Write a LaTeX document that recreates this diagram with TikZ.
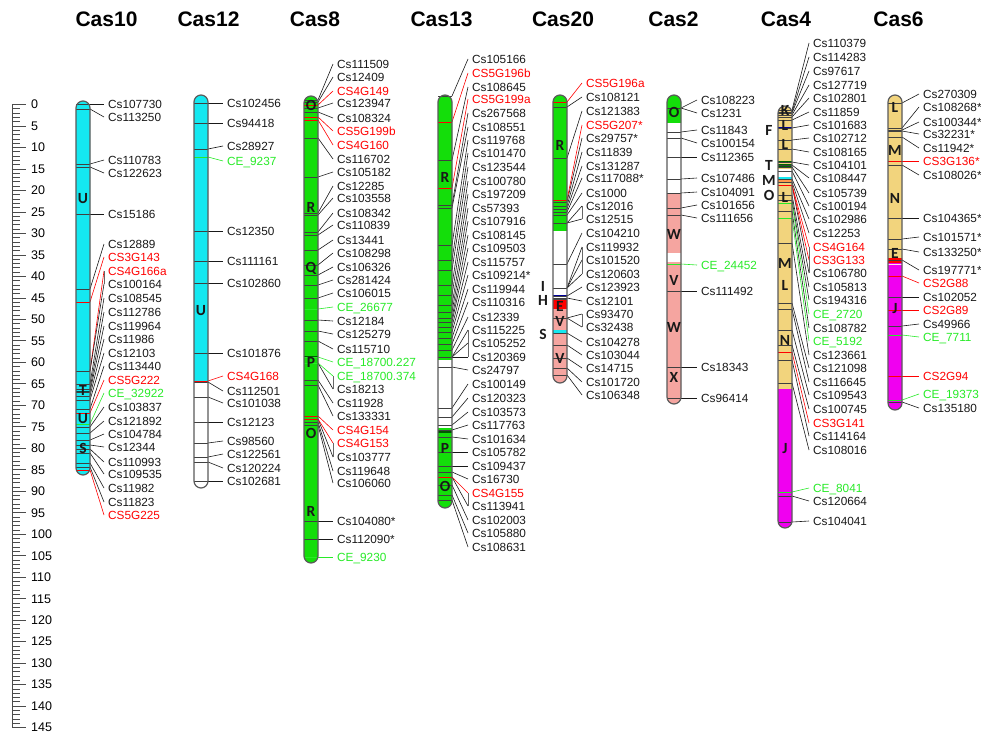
\documentclass[tikz,border=0pt]{standalone}
\usepackage{fontspec}
\setmainfont{Liberation Sans}
\newfontfamily\carl{Carlito}
\definecolor{cyanf}{RGB}{20,232,240}
\definecolor{greenf}{RGB}{20,222,10}
\definecolor{pinkf}{RGB}{245,165,160}
\definecolor{yellf}{RGB}{242,212,125}
\definecolor{magf}{RGB}{240,0,240}
\definecolor{barc}{RGB}{90,90,90}
\definecolor{txk}{RGB}{25,25,25}
\definecolor{txr}{RGB}{255,0,0}
\definecolor{txg}{RGB}{40,235,40}
\colorlet{cnk}{txk}\colorlet{cnr}{txr}\colorlet{cng}{txg}
\colorlet{tkk}{black!75}\colorlet{tkr}{red}\colorlet{tkg}{txg}
\tikzset{
  lab/.style={font=\fontsize{11.8}{12}\selectfont, anchor=west, inner xsep=4pt, inner ysep=0pt, text height=8.5pt, text depth=0pt},
  ttl/.style={font=\fontsize{21}{24}\selectfont\bfseries, anchor=base, inner sep=0pt, text=black},
  letr/.style={font=\carl\fontsize{15.5}{16}\selectfont\bfseries, inner sep=0pt, text height=10pt, text depth=0pt, text=black!90},
  chbar/.style={draw=barc, line width=1.2pt, rounded corners=7pt},
  tkl/.style={line width=0.8pt},
  cn/.style={line width=0.6pt},
  brk/.style={line width=0.8pt, draw=black!60},
  sctick/.style={line width=0.7pt, draw=black!70},
  sclab/.style={font=\fontsize{12.5}{13}\selectfont, anchor=west, inner xsep=4pt, inner ysep=0pt, text height=8.8pt, text depth=0pt}
}
\newcounter{mkc}
\newcommand\mymk[4]{%
  \stepcounter{mkc}%
  \edef\mkn{\arabic{mkc}}%
  \draw[tkl,draw=tk#4] (\cxl,#1) -- (\cxr,#1);
  \coordinate (t\mkn) at (\cxr,#1);
  \node[lab,text=tx#4] (n\mkn) at (\clx,#2) {#3};
  \draw[cn,draw=cn#4] (t\mkn) -- (n\mkn.west);
}
\newcommand\mybrk[2]{\draw[brk] (\clx,#1) -- (\clx,#2);}
\newcommand\myband[3][0.8pt]{\draw[line width=#1,draw=#3] (\cxl,#2) -- (\cxr,#2);}
\newcommand\myseg[3]{\fill[#3] (\cxl-2,#1) rectangle (\cxr+2,#2);}
\newcommand\setchr[5]{\def\cxl{#1}\def\cxr{#2}\def\clx{#3}\def\ctop{#4}\def\cbot{#5}}
\newcommand\myclipbar{\clip[rounded corners=7pt] (\cxl,\ctop) rectangle (\cxr,\cbot);}
\newcommand\mybarline{\draw[chbar] (\cxl,\ctop) rectangle (\cxr,\cbot);}
\newcommand\mylt[2]{\node[letr] at ({(\cxl+\cxr)/2},#1) {#2};}
\begin{document}
\begin{tikzpicture}[x=1pt,y=-1pt]
\useasboundingbox (0,0) rectangle (981,734);
\fill[white] (0,0) rectangle (981,734);
% titles
\node[ttl] (t10) at (106.5,26) {Cas10};
\node[ttl] (t12) at (208.5,26) {Cas12};
\node[ttl] (t8) at (315,26) {Cas8};
\node[ttl] (t13) at (441.5,26) {Cas13};
\node[ttl] (t20) at (563,26) {Cas20};
\node[ttl] (t2) at (673.5,26) {Cas2};
\node[ttl] (t4) at (786,26) {Cas4};
\node[ttl] (t6) at (898.5,26) {Cas6};
% scale
\draw[line width=1pt, draw=black!70] (12,104.5) -- (12,727.5);
\foreach \i in {0,...,145}{\pgfmathsetmacro\yy{104.5+4.2966*\i}\draw[sctick] (12,\yy) -- (20,\yy);}
\foreach \i in {0,5,...,145}{\pgfmathsetmacro\yy{104.5+4.2966*\i}\draw[sctick] (12,\yy) -- (26,\yy); \node[sclab] (s\i) at (27,\yy) {\i};}

% ---------------- Cas10
\setchr{76}{90}{104}{101}{475}
\begin{scope}\myclipbar
\myseg{90}{480}{cyanf}
\myband[2pt]{392}{teal!60!black}
\myband{396}{teal!70!black}
\end{scope}
\mymk{104}{104}{Cs107730}{k}
\mymk{109}{117}{Cs113250}{k}
\mymk{164}{160}{Cs110783}{k}
\mymk{167}{173}{Cs122623}{k}
\mymk{214}{214}{Cs15186}{k}
\mymk{289}{244}{Cs12889}{k}
\mymk{302}{257}{CS3G143}{r}
\mymk{371}{271}{CS4G166a}{r}
\mymk{371}{284}{Cs100164}{k}
\mymk{384}{298}{Cs108545}{k}
\mymk{389}{312}{Cs112786}{k}
\mymk{392}{326}{Cs119964}{k}
\mymk{396}{339}{Cs11986}{k}
\mymk{400}{353}{Cs12103}{k}
\mymk{409}{366}{Cs113440}{k}
\mymk{413}{380}{CS5G222}{r}
\mymk{424}{393}{CE\_32922}{g}
\mymk{427}{407}{Cs103837}{k}
\mymk{433}{421}{Cs121892}{k}
\mymk{440}{434}{Cs104784}{k}
\mymk{445}{447}{Cs12344}{k}
\mymk{449}{462}{Cs110993}{k}
\mymk{453}{474}{Cs109535}{k}
\mymk{463}{488}{Cs11982}{k}
\mymk{467}{502}{Cs11823}{k}
\mymk{470}{515}{CS5G225}{r}
\mybrk{271}{284}
\mybarline
\mylt{198}{U}\mylt{390}{T}\mylt{418}{U}\mylt{448}{S}

% ---------------- Cas12
\setchr{194}{208}{223}{95}{488}
\begin{scope}\myclipbar
\myseg{90}{381}{cyanf}
\myseg{381}{495}{white}
\end{scope}
\mymk{103}{103}{Cs102456}{k}
\mymk{123}{123}{Cs94418}{k}
\mymk{149}{146}{Cs28927}{k}
\mymk{157}{161}{CE\_9237}{g}
\mymk{231}{231}{Cs12350}{k}
\mymk{261}{261}{Cs111161}{k}
\mymk{283}{283}{Cs102860}{k}
\mymk{353}{353}{Cs101876}{k}
\mymk{382}{391}{Cs112501}{k}
\mymk{381}{376}{CS4G168}{r}
\mymk{397}{403}{Cs101038}{k}
\mymk{422}{422}{Cs12123}{k}
\mymk{443}{441}{Cs98560}{k}
\mymk{457}{454}{Cs122561}{k}
\mymk{462}{468}{Cs120224}{k}
\mymk{481}{481}{Cs102681}{k}
\mybarline
\mylt{310}{U}

% ---------------- Cas8
\setchr{304}{318}{333}{96}{563}
\begin{scope}\myclipbar
\myseg{90}{570}{greenf}
\myband[2pt]{357}{green!35!black}
\end{scope}
\mymk{100}{64}{Cs111509}{k}
\mymk{102}{77}{Cs12409}{k}
\mymk{105}{91}{CS4G149}{r}
\mymk{108}{103}{Cs123947}{k}
\mymk{112}{118}{Cs108324}{k}
\mymk{117}{131}{CS5G199b}{r}
\mymk{120}{145}{CS4G160}{r}
\mymk{138}{159}{Cs116702}{k}
\mymk{177}{172}{Cs105182}{k}
\mymk{213}{186}{Cs12285}{k}
\mymk{215}{198}{Cs103558}{k}
\mymk{232}{213}{Cs108342}{k}
\mymk{235}{225}{Cs110839}{k}
\mymk{250}{240}{Cs13441}{k}
\mymk{265}{253}{Cs108298}{k}
\mymk{275}{267}{Cs106326}{k}
\mymk{285}{280}{Cs281424}{k}
\mymk{298}{293}{Cs106015}{k}
\mymk{309}{307}{CE\_26677}{g}
\mymk{320}{321}{Cs12184}{k}
\mymk{331}{334}{Cs125279}{k}
\mymk{341}{349}{Cs115710}{k}
\mymk{357}{362}{CE\_18700.227}{g}
\mymk{363}{389}{Cs18213}{k}
\mymk{363}{376}{CE\_18700.374}{g}
\mymk{380}{403}{Cs11928}{k}
\mymk{385}{416}{Cs133331}{k}
\mymk{416}{430}{CS4G154}{r}
\mymk{419}{457}{Cs103777}{k}
\mymk{419}{443}{CS4G153}{r}
\mymk{422}{471}{Cs119648}{k}
\mymk{425}{483}{Cs106060}{k}
\mymk{521}{521}{Cs104080*}{k}
\mymk{539}{539}{Cs112090*}{k}
\mymk{557}{557}{CE\_9230}{g}
\mybrk{376}{389}\mybrk{443}{457}
\mybarline
\mylt{105}{O}\mylt{207}{R}\mylt{267}{Q}\mylt{362}{P}\mylt{433}{O}\mylt{511}{R}

% ---------------- Cas13
\setchr{438}{452}{468}{95}{508}
\begin{scope}\myclipbar
\myseg{90}{360}{greenf}
\myseg{360}{428}{white}
\myseg{428}{515}{greenf}
\myband[2pt]{432}{green!35!black}
\end{scope}
\mymk{96}{59}{Cs105166}{k}
\mymk{122}{73}{CS5G196b}{r}
\mymk{160}{87}{Cs108645}{k}
\mymk{188}{99}{CS5G199a}{r}
\mymk{205}{113}{Cs267568}{k}
\mymk{208}{127}{Cs108551}{k}
\mymk{245}{140}{Cs119768}{k}
\mymk{260}{153}{Cs101470}{k}
\mymk{270}{167}{Cs123544}{k}
\mymk{285}{181}{Cs100780}{k}
\mymk{295}{194}{Cs197209}{k}
\mymk{305}{208}{Cs57393}{k}
\mymk{312}{221}{Cs107916}{k}
\mymk{318}{235}{Cs108145}{k}
\mymk{322}{248}{Cs109503}{k}
\mymk{327}{262}{Cs115757}{k}
\mymk{332}{275}{Cs109214*}{k}
\mymk{338}{289}{Cs119944}{k}
\mymk{344}{302}{Cs110316}{k}
\mymk{350}{317}{Cs12339}{k}
\mymk{357}{330}{Cs115225}{k}
\mymk{357}{343}{Cs105252}{k}
\mymk{357}{357}{Cs120369}{k}
\mymk{367}{370}{Cs24797}{k}
\mymk{408}{384}{Cs100149}{k}
\mymk{417}{398}{Cs120323}{k}
\mymk{425}{412}{Cs103573}{k}
\mymk{430}{425}{Cs117763}{k}
\mymk{437}{439}{Cs101634}{k}
\mymk{452}{452}{Cs105782}{k}
\mymk{466}{466}{Cs109437}{k}
\mymk{472}{479}{Cs16730}{k}
\mymk{477}{506}{Cs113941}{k}
\mymk{477}{493}{CS4G155}{r}
\mymk{485}{520}{Cs102003}{k}
\mymk{495}{533}{Cs105880}{k}
\mymk{500}{547}{Cs108631}{k}
\mybrk{330}{357}\mybrk{493}{506}
\mybarline
\mylt{177}{R}\mylt{448}{P}\mylt{486}{O}

% ---------------- Cas20
\setchr{553}{567}{582}{95}{383}
\begin{scope}\myclipbar
\myseg{90}{231}{greenf}
\myseg{231}{300}{white}
\myseg{300}{309}{red}
\myseg{309}{390}{pinkf}
\myseg{330}{334}{cyanf}
\myband[2pt]{296}{blue!60!black}
\myband[1pt]{299}{black!70}
\end{scope}
\mymk{102}{83}{CS5G196a}{r}
\mymk{107}{97}{Cs108121}{k}
\mymk{158}{111}{Cs121383}{k}
\mymk{202}{138}{Cs29757*}{k}
\mymk{200}{125}{CS5G207*}{r}
\mymk{206}{152}{Cs11839}{k}
\mymk{209}{166}{Cs131287}{k}
\mymk{212}{178}{Cs117088*}{k}
\mymk{215}{193}{Cs1000}{k}
\mymk{223}{206}{Cs12016}{k}
\mymk{223}{219}{Cs12515}{k}
\mymk{264}{233}{Cs104210}{k}
\mymk{288}{247}{Cs119932}{k}
\mymk{288}{260}{Cs101520}{k}
\mymk{288}{274}{Cs120603}{k}
\mymk{296}{287}{Cs123923}{k}
\mymk{298}{301}{Cs12101}{k}
\mymk{318}{314}{Cs93470}{k}
\mymk{318}{327}{Cs32438}{k}
\mymk{333}{342}{Cs104278}{k}
\mymk{345}{355}{Cs103044}{k}
\mymk{358}{368}{Cs14715}{k}
\mymk{368}{382}{Cs101720}{k}
\mymk{375}{395}{Cs106348}{k}
\mybrk{206}{219}\mybrk{247}{274}\mybrk{314}{327}
\mybarline
\mylt{145}{R}\mylt{306}{E}\mylt{321}{V}\mylt{358}{V}
\node[letr] (l20i) at (543,286) {I};
\node[letr] (l20h) at (543,300) {H};
\node[letr] (l20s) at (543,334) {S};

% ---------------- Cas2
\setchr{667}{681}{697}{95}{404}
\begin{scope}\myclipbar
\myseg{90}{123}{greenf}
\myseg{123}{193}{white}
\myseg{193}{410}{pinkf}
\myseg{253}{262}{white}
\end{scope}
\mymk{108}{100}{Cs108223}{k}
\mymk{108}{113}{Cs1231}{k}
\mymk{132}{130}{Cs11843}{k}
\mymk{138}{143}{Cs100154}{k}
\mymk{157}{157}{Cs112365}{k}
\mymk{179}{178}{Cs107486}{k}
\mymk{193}{192}{Cs104091}{k}
\mymk{208}{205}{Cs101656}{k}
\mymk{215}{218}{Cs111656}{k}
\mymk{264}{265}{CE\_24452}{g}
\mymk{291}{291}{Cs111492}{k}
\mymk{367}{367}{Cs18343}{k}
\mymk{398}{398}{Cs96414}{k}
\mybarline
\mylt{112}{O}\mylt{234}{W}\mylt{280}{V}\mylt{327}{W}\mylt{377}{X}

% ---------------- Cas4
\setchr{778}{792}{809}{106}{528}
\begin{scope}\myclipbar
\myseg{100}{389}{yellf}
\myseg{389}{535}{magf}
\myseg{169}{177}{white}
\myseg{177}{180}{cyanf}
\myseg{180}{183}{orange!60!pink}
\myband[2pt]{128}{blue!60!black}
\myband[1.2pt]{162}{green!40!black}
\myband[1.2pt]{165}{green!40!black}
\myband[1.2pt]{167}{green!40!black}
\end{scope}
\mymk{110}{43}{Cs110379}{k}
\mymk{112}{57}{Cs114283}{k}
\mymk{113}{71}{Cs97617}{k}
\mymk{115}{85}{Cs127719}{k}
\mymk{117}{98}{Cs102801}{k}
\mymk{120}{112}{Cs11859}{k}
\mymk{128}{125}{Cs101683}{k}
\mymk{140}{138}{Cs102712}{k}
\mymk{149}{152}{Cs108165}{k}
\mymk{162}{165}{Cs104101}{k}
\mymk{165}{178}{Cs108447}{k}
\mymk{167}{193}{Cs105739}{k}
\mymk{171}{206}{Cs100194}{k}
\mymk{179}{219}{Cs102986}{k}
\mymk{182}{233}{Cs12253}{k}
\mymk{185}{273}{Cs106780}{k}
\mymk{185}{247}{CS4G164}{r}
\mymk{185}{260}{CS3G133}{r}
\mymk{195}{287}{Cs105813}{k}
\mymk{200}{300}{Cs194316}{k}
\mymk{203}{314}{CE\_2720}{g}
\mymk{211}{328}{Cs108782}{k}
\mymk{218}{341}{CE\_5192}{g}
\mymk{243}{355}{Cs123661}{k}
\mymk{303}{368}{Cs121098}{k}
\mymk{309}{382}{Cs116645}{k}
\mymk{330}{395}{Cs109543}{k}
\mymk{345}{409}{Cs100745}{k}
\mymk{352}{423}{CS3G141}{r}
\mymk{360}{436}{Cs114164}{k}
\mymk{383}{450}{Cs108016}{k}
\mymk{492}{488}{CE\_8041}{g}
\mymk{496}{501}{Cs120664}{k}
\mymk{522}{521}{Cs104041}{k}
\mybrk{247}{273}
\mybarline
\mylt{110}{K}\mylt{125}{L}\mylt{144}{L}\mylt{197}{L}\mylt{263}{M}\mylt{285}{L}\mylt{340}{N}\mylt{448}{J}
\node[letr] (l4f) at (769,130) {F};
\node[letr] (l4t) at (769,165) {T};
\node[letr] (l4m) at (769,180) {M};
\node[letr] (l4o) at (769,195) {O};

% ---------------- Cas6
\setchr{888}{902}{919}{95}{410}
\begin{scope}\myclipbar
\myseg{90}{258}{yellf}
\myseg{258}{263}{red}
\myseg{263}{415}{magf}
\myband[1pt]{264.5}{pink!40}
\end{scope}
\mymk{103}{94}{Cs270309}{k}
\mymk{128}{107}{Cs108268*}{k}
\mymk{130}{122}{Cs100344*}{k}
\mymk{131}{134}{Cs32231*}{k}
\mymk{137}{148}{Cs11942*}{k}
\mymk{161}{161}{CS3G136*}{r}
\mymk{165}{175}{Cs108026*}{k}
\mymk{218}{218}{Cs104365*}{k}
\mymk{239}{237}{Cs101571*}{k}
\mymk{249}{252}{Cs133250*}{k}
\mymk{260}{270}{Cs197771*}{k}
\mymk{276}{283}{CS2G88}{r}
\mymk{297}{297}{Cs102052}{k}
\mymk{310}{310}{CS2G89}{r}
\mymk{326}{324}{Cs49966}{k}
\mymk{335}{337}{CE\_7711}{g}
\mymk{376}{376}{CS2G94}{r}
\mymk{400}{394}{CE\_19373}{g}
\mymk{402}{408}{Cs135180}{k}
\mybarline
\mylt{107}{L}\mylt{150}{M}\mylt{198}{N}\mylt{253}{E}\mylt{308}{J}
\end{tikzpicture}
\end{document}
